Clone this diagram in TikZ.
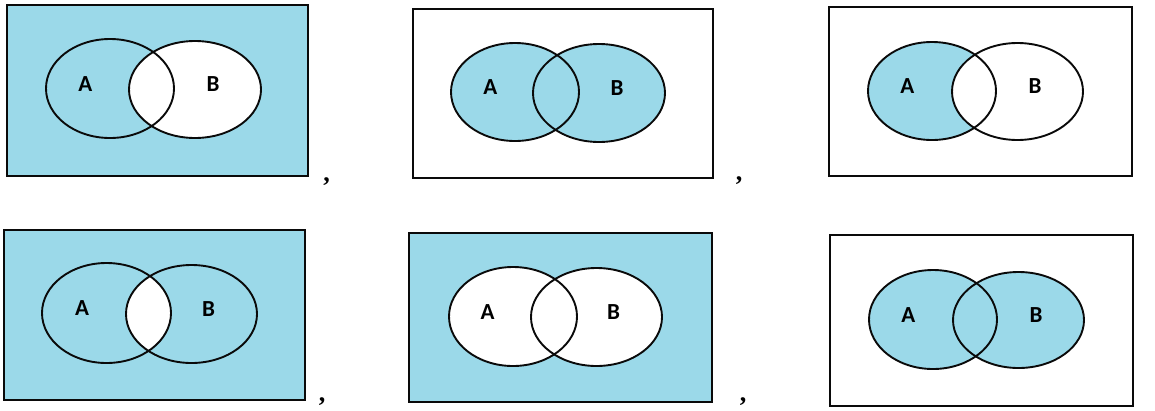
\documentclass[tikz,border=0pt]{standalone}
\usepackage{fontspec}
\newfontfamily\labelfont{Carlito}
\newfontfamily\punctfont{Liberation Serif}
\definecolor{setblue}{RGB}{155,217,233}
\definecolor{edge}{RGB}{10,10,10}
\tikzset{
  frame/.style={draw=edge, line width=2.4pt},
  setedge/.style={draw=edge, line width=1.9pt},
  setlabel/.style={inner sep=0pt, font=\labelfont\bfseries\fontsize{23}{26}\selectfont, text=black},
  sep/.style={inner sep=0pt, anchor=base, font=\punctfont\bfseries\fontsize{26}{28}\selectfont}
}
\begin{document}
\begin{tikzpicture}[x=1pt, y=-1pt]
\useasboundingbox (0,0) rectangle (1155,410);

% ---- top left: complement of B ----
\fill[setblue] (7,5) rectangle (308,176);
\fill[white] (195,89.5) ellipse [x radius=66, y radius=48.5];
\draw[setedge] (110,88.5) ellipse [x radius=64, y radius=49.5];
\draw[setedge] (195,89.5) ellipse [x radius=66, y radius=48.5];
\draw[frame] (7,5) rectangle (308,176);
\node[setlabel] (a1) at (85.3,84) {A};
\node[setlabel] (b1) at (213,84.5) {B};
\node[sep] (c1) at (326.5,181) {,};

% ---- top middle: A union B ----
\fill[setblue] (515,92) ellipse [x radius=64, y radius=49];
\fill[setblue] (599,93) ellipse [x radius=66, y radius=49];
\draw[setedge] (515,92) ellipse [x radius=64, y radius=49];
\draw[setedge] (599,93) ellipse [x radius=66, y radius=49];
\draw[frame] (413,9) rectangle (713,178);
\node[setlabel] (a2) at (490.3,87.5) {A};
\node[setlabel] (b2) at (617,88) {B};
\node[sep] (c2) at (739,180) {,};

% ---- top right: A minus B ----
\fill[setblue] (932,91) ellipse [x radius=64, y radius=49];
\fill[white] (1017.5,91.5) ellipse [x radius=65.5, y radius=48.5];
\draw[setedge] (932,91) ellipse [x radius=64, y radius=49];
\draw[setedge] (1017.5,91.5) ellipse [x radius=65.5, y radius=48.5];
\draw[frame] (829,7) rectangle (1132,176);
\node[setlabel] (a3) at (907.3,86.5) {A};
\node[setlabel] (b3) at (1035,86.5) {B};

% ---- bottom left: complement of A intersect B ----
\fill[setblue] (4,230) rectangle (305,400);
\begin{scope}
  \clip (106.5,313) ellipse [x radius=64.5, y radius=50];
  \fill[white] (191.5,314) ellipse [x radius=65.5, y radius=49];
\end{scope}
\draw[setedge] (106.5,313) ellipse [x radius=64.5, y radius=50];
\draw[setedge] (191.5,314) ellipse [x radius=65.5, y radius=49];
\draw[frame] (4,230) rectangle (305,400);
\node[setlabel] (a4) at (82,308.5) {A};
\node[setlabel] (b4) at (208.5,309.5) {B};
\node[sep] (c4) at (322,401) {,};

% ---- bottom middle: complement of A union B ----
\fill[setblue] (409,233) rectangle (712,402);
\fill[white] (513,316.5) ellipse [x radius=64, y radius=49.5];
\fill[white] (596.5,317) ellipse [x radius=65.5, y radius=49];
\draw[setedge] (513,316.5) ellipse [x radius=64, y radius=49.5];
\draw[setedge] (596.5,317) ellipse [x radius=65.5, y radius=49];
\draw[frame] (409,233) rectangle (712,402);
\node[setlabel] (a5) at (487.5,312) {A};
\node[setlabel] (b5) at (613.5,312) {B};
\node[sep] (c5) at (743,401) {,};

% ---- bottom right: A union B ----
\fill[setblue] (933,319.5) ellipse [x radius=64, y radius=49.5];
\fill[setblue] (1018.5,320) ellipse [x radius=65.5, y radius=48];
\draw[setedge] (933,319.5) ellipse [x radius=64, y radius=49.5];
\draw[setedge] (1018.5,320) ellipse [x radius=65.5, y radius=48];
\draw[frame] (830,235) rectangle (1133,406);
\node[setlabel] (a6) at (908.3,315) {A};
\node[setlabel] (b6) at (1036,315) {B};
\end{tikzpicture}
\end{document}
